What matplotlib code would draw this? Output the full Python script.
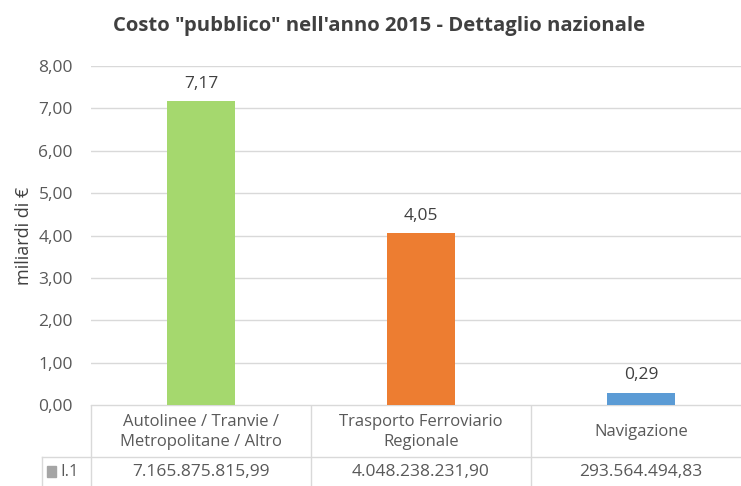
import matplotlib
matplotlib.use("Agg")
import matplotlib.pyplot as plt
from matplotlib import font_manager

categories = ["Autolinee / Tranvie /\nMetropolitane / Altro", "Trasporto Ferroviario\nRegionale", "Navigazione"]
values_eur = [7165875815.99, 4048238231.90, 293564494.83]
value_labels = ["7,17", "4,05", "0,29"]
table_values = ["7.165.875.815,99", "4.048.238.231,90", "293.564.494,83"]
yticks = [0, 1, 2, 3, 4, 5, 6, 7, 8]
ytick_labels = ["0,00", "1,00", "2,00", "3,00", "4,00", "5,00", "6,00", "7,00", "8,00"]
colors = ["#A5D86E", "#ED7D31", "#5B9BD5"]
series_name = "I.1"
title = 'Costo "pubblico" nell\'anno 2015 - Dettaglio nazionale'
ylabel = "miliardi di €"

names = {f.name for f in font_manager.fontManager.ttflist}
fam = "Liberation Sans Narrow" if "Liberation Sans Narrow" in names else "Open Sans"
plt.rcParams["font.family"] = [fam, "DejaVu Sans"]

txt = "#595959"
grid = "#D9D9D9"
W, H = 741, 486
fig = plt.figure(figsize=(W / 100, H / 100), dpi=100)

x0, x1 = 91, 751
ytop, ybase = 66, 405
ax = fig.add_axes([x0 / W, 1 - ybase / H, (x1 - x0) / W, (ybase - ytop) / H])
vals = [v / 1e9 for v in values_eur]
xs = list(range(len(categories)))
ax.bar(xs, vals, width=0.31, color=colors, zorder=3)
for x, v, lab in zip(xs, vals, value_labels):
    ax.text(x, v + 0.22, lab, ha="center", va="bottom", fontsize=12.5, color="#404040")
ax.set_xlim(-0.5, 2.5)
ax.set_ylim(0, 8)
ax.set_yticks(yticks)
ax.set_yticklabels(ytick_labels, fontsize=12.5, color=txt)
ax.tick_params(axis="y", length=0, pad=13)
ax.set_xticks([])
ax.grid(axis="y", color=grid, linewidth=1, zorder=0)
for s in ax.spines.values():
    s.set_visible(False)
ax.set_ylabel(ylabel, fontsize=13, color="#404040", labelpad=4)
fig.text(379 / W, 1 - 26 / H, title, ha="center", va="center", fontsize=14.6, fontweight="bold", color="#404040")

# data table
tab = fig.add_axes([0, 0, 1, 1 - ybase / H])
tab.set_xlim(0, W)
tab.set_ylim(H, ybase)
tab.axis("off")
lc = "#D9D9D9"
col_w = (x1 - x0) / 3
row_y = 457
tab.plot([x0, W], [ybase, ybase], color=lc, lw=1)
tab.plot([42, W], [row_y, row_y], color=lc, lw=1)
for i in range(3):
    xl = x0 + i * col_w
    tab.plot([xl, xl], [ybase, H], color=lc, lw=1)
tab.plot([42, 42], [row_y, H], color=lc, lw=1)
for i, (cat, tv) in enumerate(zip(categories, table_values)):
    xc = x0 + (i + 0.5) * col_w
    tab.text(xc, (ybase + row_y) / 2 + 1, cat, ha="center", va="center", fontsize=12, color=txt, linespacing=1.3)
    tab.text(xc, 472, tv, ha="center", va="center", fontsize=12.5, color=txt)
tab.add_patch(plt.Rectangle((47, 466), 9, 11, color="#A5A5A5"))
tab.text(60, 472, series_name, ha="left", va="center", fontsize=12, color=txt)

fig.savefig("out.png", dpi=100)
